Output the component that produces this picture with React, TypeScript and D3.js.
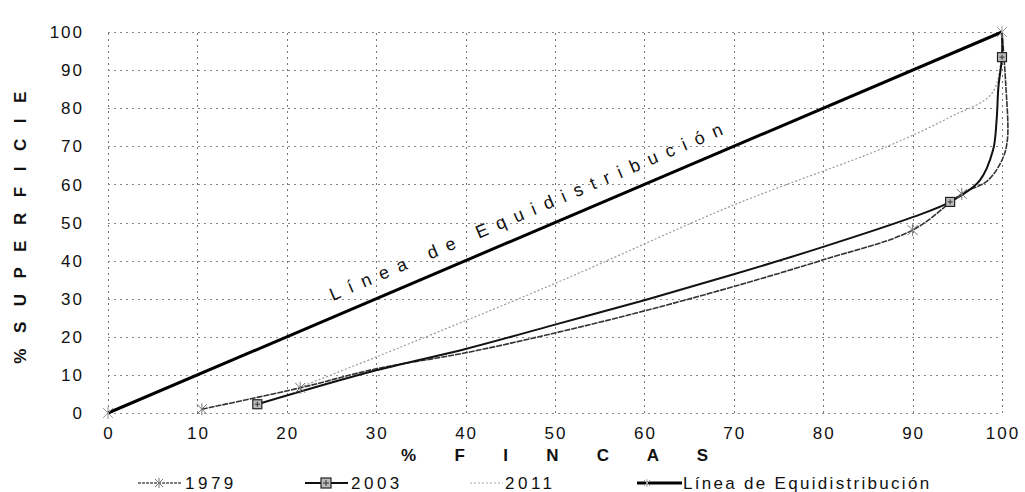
import React from "react";
import * as d3 from "d3";

// ---- data ----
const xTicks = [0, 10, 20, 30, 40, 50, 60, 70, 80, 90, 100];
const yTicks = [0, 10, 20, 30, 40, 50, 60, 70, 80, 90, 100];

const equiX = [0, 100];
const equiY = [0, 100];

const s1979X = [10.5, 21.5, 30, 40, 50, 60, 70, 80, 90, 95.5, 98.4, 100, 100.6, 100.4, 100];
const s1979Y = [1, 6.6, 11.6, 15.8, 21, 26.8, 33.2, 40.2, 48, 57.5, 61, 66.4, 71.6, 87, 100];
const s1979Marked = [0, 1, 8, 9];

const s2003X = [16.7, 30, 40, 50, 60, 70, 80, 90, 94.2, 97.5, 99, 99.4, 99.6, 100, 100];
const s2003Y = [2.3, 11.2, 16.8, 23.2, 29.6, 36.4, 43.6, 51.4, 55.4, 61, 69, 77, 85.6, 93.4, 100];
const s2003Marked = [0, 8, 13];

const s2011X = [21.5, 30, 50, 70, 87, 94.2, 99, 100];
const s2011Y = [6.8, 14.7, 34, 54.6, 69.8, 77.7, 84.3, 100];

const legendLabels = ["1979", "2003", "2011", "Línea de Equidistribución"];
const xTitle = "% F I N C A S";
const yTitle = "% S U P E R F I C I E";
const equiLabel = "Línea de Equidistribución";

// ---- layout ----
const W = 1025;
const H = 492;
const x = d3.scaleLinear().domain([0, 100]).range([108, 1002]);
const y = d3.scaleLinear().domain([0, 100]).range([413, 32]);
const FONT = "Liberation Sans, Arial, sans-serif";

const pts = (xs: number[], ys: number[]) => xs.map((v, i) => [v, ys[i]] as [number, number]);
const smooth = d3
  .line<[number, number]>()
  .x((d) => x(d[0]))
  .y((d) => y(d[1]))
  .curve(d3.curveCatmullRom.alpha(0.5));
const straight = d3
  .line<[number, number]>()
  .x((d) => x(d[0]))
  .y((d) => y(d[1]));

const Star = ({ cx, cy, r = 5, color = "#888" }: { cx: number; cy: number; r?: number; color?: string }) => (
  <path
    d={`M${cx - r},${cy - r}L${cx + r},${cy + r}M${cx - r},${cy + r}L${cx + r},${cy - r}M${cx},${cy - r - 1}L${cx},${cy + r + 1}`}
    stroke={color}
    strokeWidth={1}
    fill="none"
  />
);
const Square = ({ cx, cy, s = 9 }: { cx: number; cy: number; s?: number }) => (
  <g>
    <rect x={cx - s / 2} y={cy - s / 2} width={s} height={s} fill="#bbb" stroke="#222" strokeWidth={1.2} />
    <path d={`M${cx - s / 2 + 2},${cy}L${cx + s / 2 - 2},${cy}M${cx},${cy - s / 2 + 2}L${cx},${cy + s / 2 - 2}`} stroke="#333" strokeWidth={1} />
  </g>
);

export default function App() {
  const p1979 = pts(s1979X, s1979Y);
  const p2003 = pts(s2003X, s2003Y);
  const p2011 = pts(s2011X, s2011Y);
  const pEqui = pts(equiX, equiY);

  // label along equidistribution line
  const angle = (Math.atan2(y(100) - y(0), x(100) - x(0)) * 180) / Math.PI;
  const lx0 = 25.8;
  const ax = x(lx0);
  const ay = y(lx0);
  const off = 15;
  const rad = (angle * Math.PI) / 180;
  const tx = ax + off * Math.sin(rad);
  const ty = ay - off * Math.cos(rad);

  const legY = 483;

  return (
    <svg width={W} height={H} style={{ position: "absolute", left: 0, top: 0, background: "#fff" }}>
      <rect width={W} height={H} fill="#fff" />
      {/* gridlines */}
      {xTicks.map((t) => (
        <line key={"gx" + t} x1={Math.round(x(t)) + 0.5} x2={Math.round(x(t)) + 0.5} y1={y(0)} y2={y(100)} stroke="#777" strokeWidth={1} strokeDasharray="2,4" />
      ))}
      {yTicks.map((t) => (
        <line key={"gy" + t} x1={x(0)} x2={x(100)} y1={Math.round(y(t)) + 0.5} y2={Math.round(y(t)) + 0.5} stroke="#888" strokeWidth={1} strokeDasharray="2,4" />
      ))}
      {/* tick labels */}
      {yTicks.map((t) => (
        <text key={"ty" + t} x={84} y={y(t)} dy="0.36em" textAnchor="end" fontFamily={FONT} fontSize={17} letterSpacing={2} fill="#111">
          {t}
        </text>
      ))}
      {xTicks.map((t) => (
        <text key={"tx" + t} x={x(t) + 1} y={439} textAnchor="middle" fontFamily={FONT} fontSize={17} letterSpacing={2} fill="#111">
          {t}
        </text>
      ))}
      {/* axis titles */}
      <text x={563} y={461} textAnchor="middle" fontFamily={FONT} fontSize={17} fontWeight="bold" letterSpacing={16.8} fill="#111" style={{ whiteSpace: "pre" }}>
        {xTitle}
      </text>
      <text
        transform={`translate(26,225) rotate(-90)`}
        textAnchor="middle"
        fontFamily={FONT}
        fontSize={17}
        fontWeight="bold"
        letterSpacing={5.4}
        fill="#111"
      >
        {yTitle}
      </text>

      {/* series */}
      <path d={smooth(p2011) || ""} fill="none" stroke="#999" strokeWidth={1.2} strokeDasharray="2,2" />
      <path d={smooth(p1979) || ""} fill="none" stroke="#333" strokeWidth={1.6} strokeDasharray="6,1" />
      <path d={smooth(p2003) || ""} fill="none" stroke="#111" strokeWidth={2} />
      <path d={straight(pEqui) || ""} fill="none" stroke="#000" strokeWidth={3} />
      {pEqui.map((d, i) => (
        <Star key={"se" + i} cx={x(d[0])} cy={y(d[1])} color="#999" />
      ))}
      {s1979Marked.map((i) => (
        <Star key={"s79" + i} cx={x(s1979X[i])} cy={y(s1979Y[i])} color="#777" />
      ))}
      {s2003Marked.map((i) => (
        <Square key={"s03" + i} cx={x(s2003X[i])} cy={y(s2003Y[i])} />
      ))}

      {/* line label */}
      <text
        transform={`translate(${tx},${ty}) rotate(${angle})`}
        fontFamily={FONT}
        fontSize={18}
        letterSpacing={9.3}
        fill="#111"
      >
        {equiLabel}
      </text>

      {/* legend */}
      <g fontFamily={FONT} fontSize={17} fill="#111">
        <line x1={138} x2={181} y1={legY} y2={legY} stroke="#555" strokeWidth={1.5} strokeDasharray="3,1" />
        <Star cx={159} cy={legY} color="#777" r={4} />
        <text x={185} y={legY + 6} letterSpacing={3.5}>{legendLabels[0]}</text>

        <line x1={305} x2={348} y1={legY} y2={legY} stroke="#111" strokeWidth={2} />
        <Square cx={326} cy={legY} s={10} />
        <text x={351} y={legY + 6} letterSpacing={3.5}>{legendLabels[1]}</text>

        <line x1={470} x2={503} y1={legY} y2={legY} stroke="#aaa" strokeWidth={1.2} strokeDasharray="2,2" />
        <text x={505} y={legY + 6} letterSpacing={3.5}>{legendLabels[2]}</text>

        <line x1={637} x2={682} y1={legY} y2={legY} stroke="#000" strokeWidth={3} />
        <Star cx={647} cy={legY} color="#aaa" r={3} />
        <text x={683} y={legY + 6} letterSpacing={2.3}>{legendLabels[3]}</text>
      </g>
    </svg>
  );
}
